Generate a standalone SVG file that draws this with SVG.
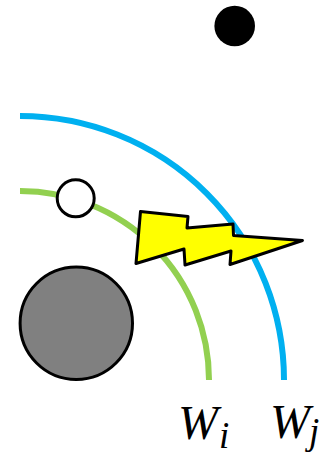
<svg xmlns="http://www.w3.org/2000/svg" width="329" height="453" viewBox="0 0 329 453">
<style>
.arc{fill:none;stroke-width:6}
.w{font-family:"Liberation Serif",serif;font-style:italic;font-size:48px;fill:#000}
.s{font-family:"Liberation Serif",serif;font-style:italic;font-size:37px;fill:#000}
</style>
<rect width="329" height="453" fill="#fff"/>
<g id="connectors">
<path class="arc" stroke="#92d050" d="M20 191A189 189 0 0 1 209 380"/>
<path class="arc" stroke="#00b0f0" d="M20 116A264 264 0 0 1 284 380"/>
</g>
<g id="black-dot"><circle cx="234.700" cy="26" r="20.300" fill="#000"/></g>
<g id="white-dot"><circle cx="75.700" cy="198.300" r="18.500" fill="#fff" stroke="#000" stroke-width="3"/></g>
<g id="grey-disc"><circle cx="76.300" cy="323.200" r="56.200" fill="#808080" stroke="#000" stroke-width="3"/></g>
<g id="bolt"><path d="M140.500 211.500L188 216.500L187 228L233 224L233.500 235.500L302.500 240.500L230 264.500L231 251L185 265L184 249L136 263.500Z" fill="#ff0" stroke="#000" stroke-width="3" stroke-linejoin="round"/></g>
<g id="label-wi"><text class="w" x="178" y="439">W<tspan class="s" dy="9" dx="1">i</tspan></text></g>
<g id="label-wj"><text class="w" x="270" y="438">W<tspan class="s" dy="6" dx="-1">j</tspan></text></g>
</svg>
